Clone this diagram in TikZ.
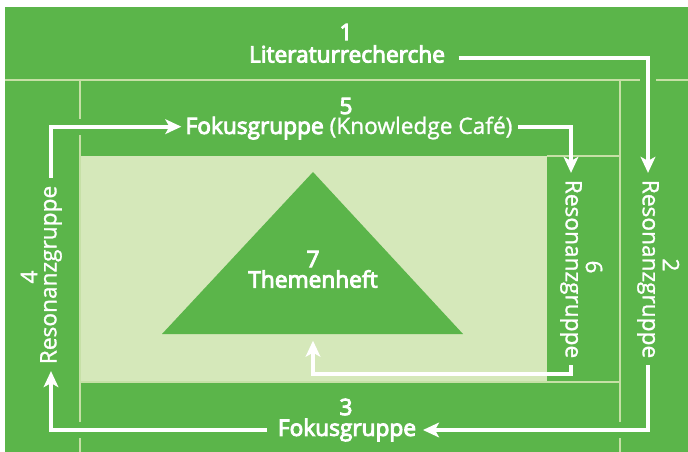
\documentclass[tikz,border=0pt]{standalone}
\usepackage{fontspec}
\setmainfont{Open Sans}
\usetikzlibrary{arrows.meta}
\definecolor{gruen}{HTML}{5BB54A}
\definecolor{hellgruen}{HTML}{D5E8BA}
\definecolor{trennlinie}{HTML}{C6E0A6}
% Text mit Kontur, etwas kraeftiger
\newcommand\kraeftig[2]{\special{pdf:literal direct 2 Tr #1 w}#2\special{pdf:literal direct 0 Tr 0.4 w}}
\newcommand\halbfett[1]{\kraeftig{0.7}{#1}}
\newcommand\normal[1]{\kraeftig{0.2}{#1}}

\begin{document}
\begin{tikzpicture}[x=0.75pt,y=-0.75pt,
	txt/.style={inner sep=0pt,text=white,font=\fontsize{17}{20}\selectfont},
	pfeil/.style={draw=white,line width=3pt,-{Stealth[length=12pt,width=11pt,inset=3pt]},shorten <=5pt,shorten >=5pt},
	halo/.style={preaction={draw=gruen,line width=12pt,-}},
	linie/.style={draw=trennlinie,line width=1.5pt}]

	\useasboundingbox (0,0) rectangle (688,452);
	\fill[gruen] (5,7) rectangle (688,452);

	% Felder
	\fill[hellgruen] (80,156) rectangle (547,382);
	\draw[linie] (5,80) -- (688,80);
	\draw[linie] (80,80) -- (80,452);
	\draw[linie] (620,80) -- (620,452);
	\draw[linie] (80,382) -- (620,382);
	\draw[linie] (547,156) -- (620,156);

	% Dreieck
	\fill[gruen] (313,172) -- (463,334) -- (162,334) -- cycle;
	\coordinate (basis) at (313,334);
	\coordinate (knick) at (313,374);

	% Texte
	\node[txt] (n1) at (346,32) {\halbfett{1}};
	\node[txt] (lit) at (347,54) {\halbfett{Literaturrecherche}};
	\node[txt] (n2) at (671,265) [rotate=-90] {\normal{2}};
	\node[txt] (res2) at (648,269) [rotate=-90] {\normal{Resonanzgruppe}};
	\node[txt] (n3) at (346,407) {\halbfett{3}};
	\node[txt] (fok3) at (347,430) {\halbfett{Fokusgruppe}};
	\node[txt] (n4) at (29,277) [rotate=90] {\normal{4}};
	\node[txt] (res4) at (51,275) [rotate=90] {\normal{Resonanzgruppe}};
	\node[txt] (n5) at (346,106) {\halbfett{5}};
	\node[txt] (fok5) at (349,128) {\halbfett{Fokusgruppe} \normal{(Knowledge Café)}};
	\node[txt] (n6) at (594,267) [rotate=-90] {\normal{6}};
	\node[txt] (res6) at (571,269) [rotate=-90] {\normal{Resonanzgruppe}};
	\node[txt] (n7) at (313,259) {\halbfett{7}};
	\node[txt] (heft) at (313,279) {\halbfett{Themenheft}};

	% Pfeile
	\draw[pfeil,halo,shorten <=10pt] ([yshift=-3pt]lit.east) -| (res2.west);
	\draw[pfeil,halo] (res2.east) |- (fok3.east);
	\draw[pfeil,halo,shorten <=8pt] (fok3.west) -| (res4.west);
	\draw[pfeil,halo,shorten >=3pt] ([yshift=1pt]res4.east) |- ([yshift=1pt]fok5.west);
	\draw[pfeil,shorten <=4pt] ([yshift=1pt]fok5.east) -| (res6.west);
	\draw[pfeil] (res6.east) |- (knick) -- (basis);

\end{tikzpicture}
\end{document}
